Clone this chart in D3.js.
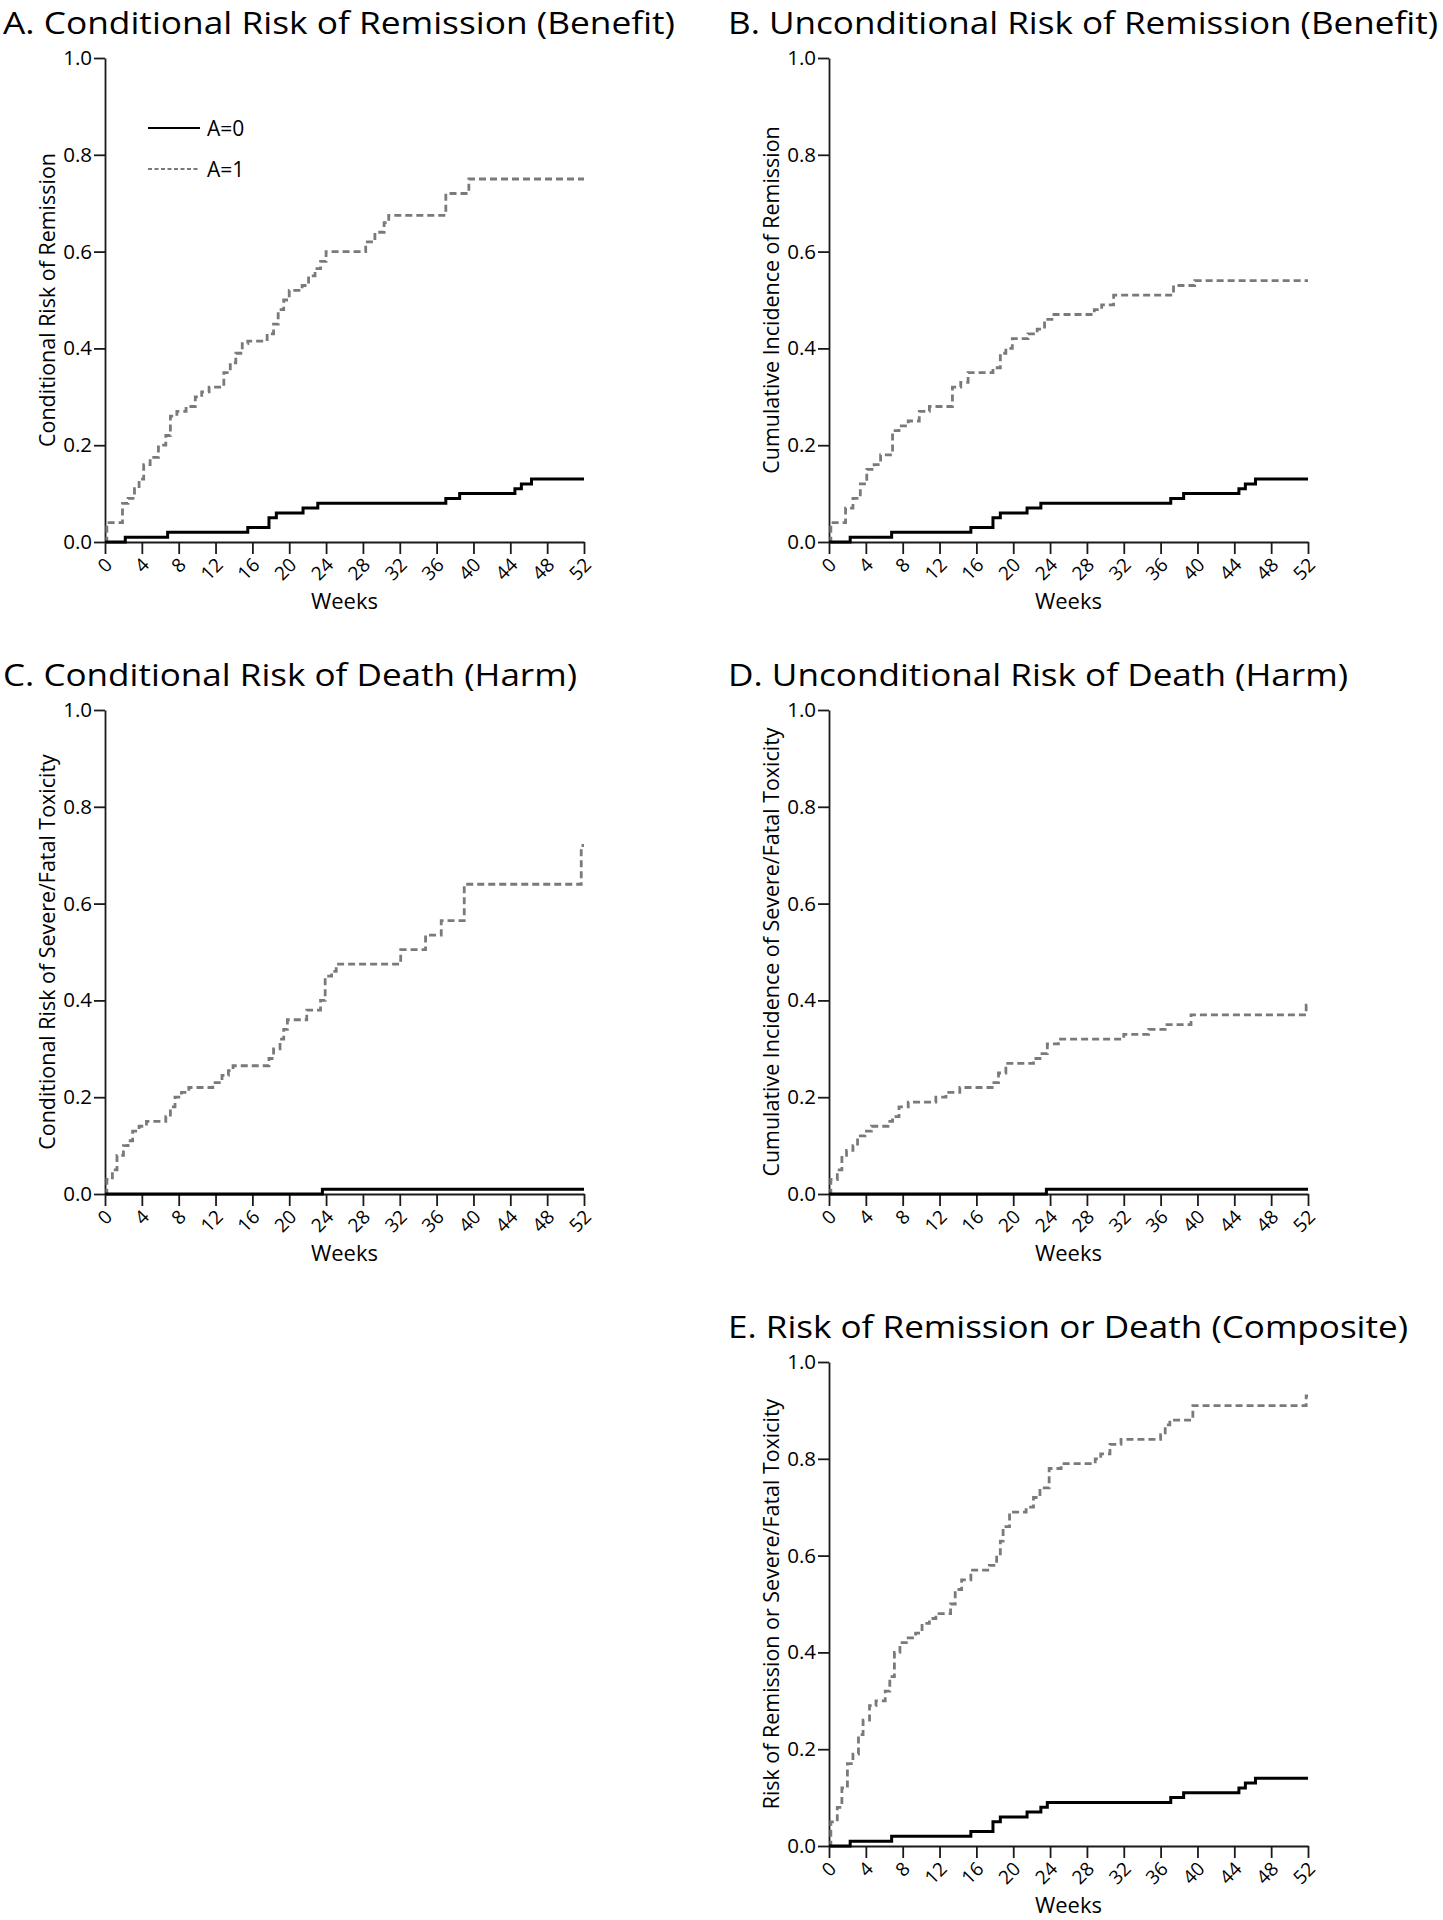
<!DOCTYPE html>
<html>
<head>
<meta charset="utf-8">
<script src="https://cdn.jsdelivr.net/npm/d3@7"></script>
<style>
  html, body { margin: 0; padding: 0; background: #fff; }
  svg { display: block; }
  text { font-family: "Open Sans", "Noto Sans", sans-serif; fill: #000; }
</style>
</head>
<body>
<svg id="chart" width="1443" height="1920"></svg>
<script>
// ---------------- DATA ----------------
const weekTicks = [0, 4, 8, 12, 16, 20, 24, 28, 32, 36, 40, 44, 48, 52];
const riskTicks = [0, 0.2, 0.4, 0.6, 0.8, 1.0];
const legendLabels = ["A=0", "A=1"];

const panelTitles = [
  "A. Conditional Risk of Remission (Benefit)",
  "B. Unconditional Risk of Remission (Benefit)",
  "C. Conditional Risk of Death (Harm)",
  "D. Unconditional Risk of Death (Harm)",
  "E. Risk of Remission or Death (Composite)"
];
const yAxisTitles = [
  "Conditional Risk of Remission",
  "Cumulative Incidence of Remission",
  "Conditional Risk of Severe/Fatal Toxicity",
  "Cumulative Incidence of Severe/Fatal Toxicity",
  "Risk of Remission or Severe/Fatal Toxicity"
];
const xAxisTitle = "Weeks";

// step functions: [week, value from that week on]
const remissionCondA0 = [[0,0],[2.2,0.01],[6.8,0.02],[15.5,0.03],[17.8,0.05],[18.6,0.06],[21.5,0.07],[23.1,0.08],[37.0,0.09],[38.5,0.10],[44.5,0.11],[45.2,0.12],[46.3,0.13],[52,0.13]];
const remissionCondA1 = [[0,0],[0.2,0.04],[1.9,0.08],[2.5,0.09],[3.2,0.11],[3.7,0.13],[4.2,0.16],[4.9,0.175],[5.8,0.2],[6.6,0.22],[7.1,0.26],[7.8,0.27],[8.8,0.28],[9.8,0.30],[10.5,0.31],[11.3,0.32],[12.9,0.35],[13.6,0.37],[14.2,0.39],[14.9,0.41],[15.5,0.415],[17.6,0.43],[18.3,0.45],[18.8,0.48],[19.4,0.50],[20.0,0.52],[21.4,0.53],[22.1,0.55],[22.8,0.565],[23.4,0.58],[24.0,0.60],[28.3,0.62],[29.3,0.64],[30.3,0.66],[30.8,0.675],[37.0,0.72],[39.5,0.75],[52,0.75]];

const remissionUncondA0 = [[0,0],[2.3,0.01],[6.8,0.02],[15.4,0.03],[17.8,0.05],[18.6,0.06],[21.5,0.07],[23.0,0.08],[37.1,0.09],[38.5,0.10],[44.5,0.11],[45.2,0.12],[46.3,0.13],[52,0.13]];
const remissionUncondA1 = [[0,0],[0.2,0.04],[1.8,0.07],[2.6,0.09],[3.4,0.12],[4.1,0.15],[4.9,0.16],[5.6,0.18],[6.9,0.23],[7.6,0.24],[8.6,0.25],[9.8,0.27],[10.9,0.28],[13.4,0.32],[14.3,0.33],[15.1,0.35],[17.8,0.36],[18.6,0.39],[19.2,0.40],[19.9,0.42],[21.6,0.43],[22.6,0.44],[23.4,0.46],[24.2,0.47],[28.8,0.48],[29.6,0.49],[30.9,0.51],[37.4,0.53],[39.7,0.54],[52,0.54]];

const deathCondA0 = [[0,0],[23.6,0.01],[52,0.01]];
const deathCondA1 = [[0,0],[0.2,0.03],[0.8,0.05],[1.3,0.08],[2.0,0.10],[2.5,0.11],[3.0,0.13],[3.7,0.14],[4.5,0.15],[6.6,0.16],[7.1,0.18],[7.6,0.20],[8.3,0.21],[9.1,0.22],[11.7,0.23],[12.7,0.245],[13.4,0.255],[13.9,0.265],[17.8,0.28],[18.3,0.30],[19.0,0.32],[19.4,0.34],[19.8,0.36],[21.9,0.38],[23.4,0.40],[23.9,0.45],[24.6,0.46],[25.1,0.475],[32.1,0.505],[34.8,0.535],[36.5,0.565],[39.0,0.64],[51.7,0.72],[52,0.72]];

const deathUncondA0 = [[0,0],[23.6,0.01],[52,0.01]];
const deathUncondA1 = [[0,0],[0.2,0.03],[0.9,0.05],[1.4,0.08],[1.9,0.09],[2.6,0.10],[3.1,0.12],[3.9,0.13],[4.6,0.14],[6.4,0.15],[6.9,0.16],[7.6,0.18],[8.6,0.19],[11.6,0.20],[12.7,0.21],[14.2,0.22],[17.9,0.23],[18.4,0.25],[19.2,0.27],[22.2,0.28],[22.9,0.29],[23.7,0.31],[24.9,0.32],[32.0,0.33],[34.7,0.34],[36.5,0.35],[39.3,0.37],[51.8,0.39],[52,0.39]];

const compositeA0 = [[0,0],[2.3,0.01],[6.8,0.02],[15.4,0.03],[17.8,0.05],[18.6,0.06],[21.5,0.07],[23.0,0.08],[23.7,0.09],[37.1,0.10],[38.5,0.11],[44.5,0.12],[45.2,0.13],[46.3,0.14],[52,0.14]];
const compositeA1 = [[0,0],[0.2,0.05],[0.9,0.08],[1.4,0.12],[2.0,0.17],[2.6,0.19],[3.2,0.23],[3.7,0.26],[4.4,0.29],[5.1,0.30],[6.1,0.32],[6.6,0.35],[7.1,0.40],[7.7,0.42],[8.6,0.43],[9.4,0.44],[10.1,0.46],[10.9,0.47],[11.6,0.48],[13.2,0.50],[13.7,0.53],[14.4,0.55],[15.4,0.57],[17.4,0.58],[18.2,0.60],[18.6,0.63],[18.9,0.66],[19.6,0.69],[21.4,0.70],[22.2,0.72],[22.9,0.74],[23.9,0.78],[25.2,0.79],[28.9,0.80],[29.5,0.81],[30.5,0.83],[31.7,0.84],[36.0,0.85],[36.5,0.87],[37.0,0.88],[39.5,0.91],[51.8,0.93],[52,0.93]];

const seriesA0 = [remissionCondA0, remissionUncondA0, deathCondA0, deathUncondA0, compositeA0];
const seriesA1 = [remissionCondA1, remissionUncondA1, deathCondA1, deathUncondA1, compositeA1];

// ---------------- LAYOUT ----------------
const plotW = 479, plotH = 484;
const panelOrigins = [ // left, top of plot area
  [105, 58], [829, 58], [105, 710], [829, 710], [829, 1362]
];
const titleWidths = [672, 710, 574, 620, 680];
const titleX = [3, 728, 3, 728, 728];
const FONT = "'Open Sans', 'Noto Sans', sans-serif";

const svg = d3.select("#chart");

const line0Style = {stroke: "#000", width: 3, dash: null};
const line1Style = {stroke: "#7a7a7a", width: 2.8, dash: "7,4"};

// y-axis title font size fitted to panel A's measured length
const probe = svg.append("text").attr("font-size", 20).text(yAxisTitles[0]);
const yTitleSize = 20 * 294 / probe.node().getComputedTextLength();
probe.remove();

panelTitles.forEach((t, i) => {
  const [left, top] = panelOrigins[i];
  const g = svg.append("g");

  const x = d3.scaleLinear().domain([0, 52]).range([left, left + plotW]);
  const y = d3.scaleLinear().domain([0, 1]).range([top + plotH, top]);

  // title, stretched to the measured width
  g.append("text")
    .attr("x", titleX[i]).attr("y", top - 24.5)
    .attr("font-size", 30.5)
    .attr("textLength", titleWidths[i])
    .attr("lengthAdjust", "spacingAndGlyphs")
    .text(t);

  // y axis
  const ya = g.append("g")
    .attr("transform", `translate(${left},0)`)
    .call(d3.axisLeft(y).tickValues(riskTicks).tickSize(11).tickSizeOuter(0).tickPadding(2).tickFormat(d3.format(".1f")));
  ya.selectAll("text").attr("font-size", 20.5).attr("font-family", FONT).attr("fill", "#000");
  ya.selectAll("line, path").attr("stroke", "#1a1a1a").attr("stroke-width", 1.8);

  // x axis
  const xa = g.append("g")
    .attr("transform", `translate(0,${top + plotH})`)
    .call(d3.axisBottom(x).tickValues(weekTicks).tickSize(12).tickSizeOuter(0));
  xa.selectAll("line, path").attr("stroke", "#1a1a1a").attr("stroke-width", 1.8);
  xa.selectAll("text")
    .attr("font-size", 19).attr("font-family", FONT).attr("fill", "#000")
    .attr("x", 0).attr("y", 0).attr("dy", "0.3em")
    .attr("text-anchor", "end")
    .attr("transform", "translate(4,20) rotate(-45)");

  // axis titles
  g.append("text")
    .attr("text-anchor", "middle")
    .attr("dominant-baseline", "central")
    .attr("font-size", yTitleSize)
    .attr("transform", `translate(${left - 59},${top + plotH / 2}) rotate(-90)`)
    .text(yAxisTitles[i]);
  g.append("text")
    .attr("text-anchor", "middle")
    .attr("x", left + plotW / 2).attr("y", top + plotH + 67)
    .attr("font-size", 22)
    .text(xAxisTitle);

  // curves
  const lineGen = d3.line().x(d => x(d[0])).y(d => y(d[1])).curve(d3.curveStepAfter);
  g.append("path").datum(seriesA1[i])
    .attr("d", lineGen).attr("fill", "none")
    .attr("stroke", line1Style.stroke).attr("stroke-width", line1Style.width)
    .attr("stroke-dasharray", line1Style.dash);
  g.append("path").datum(seriesA0[i])
    .attr("d", lineGen).attr("fill", "none")
    .attr("stroke", line0Style.stroke).attr("stroke-width", line0Style.width);

  // legend only in panel A
  if (i === 0) {
    const lg = g.append("g");
    const ly = [128, 169];
    const styles = [line0Style, line1Style];
    legendLabels.forEach((lab, k) => {
      lg.append("line")
        .attr("x1", 148).attr("x2", 200).attr("y1", ly[k]).attr("y2", ly[k])
        .attr("stroke", styles[k].stroke).attr("stroke-width", 1.8)
        .attr("stroke-dasharray", k === 1 ? "4,2.5" : null);
      lg.append("text")
        .attr("x", 207).attr("y", ly[k]).attr("dominant-baseline", "central")
        .attr("font-size", 21).text(lab);
    });
  }
});
</script>
</body>
</html>
